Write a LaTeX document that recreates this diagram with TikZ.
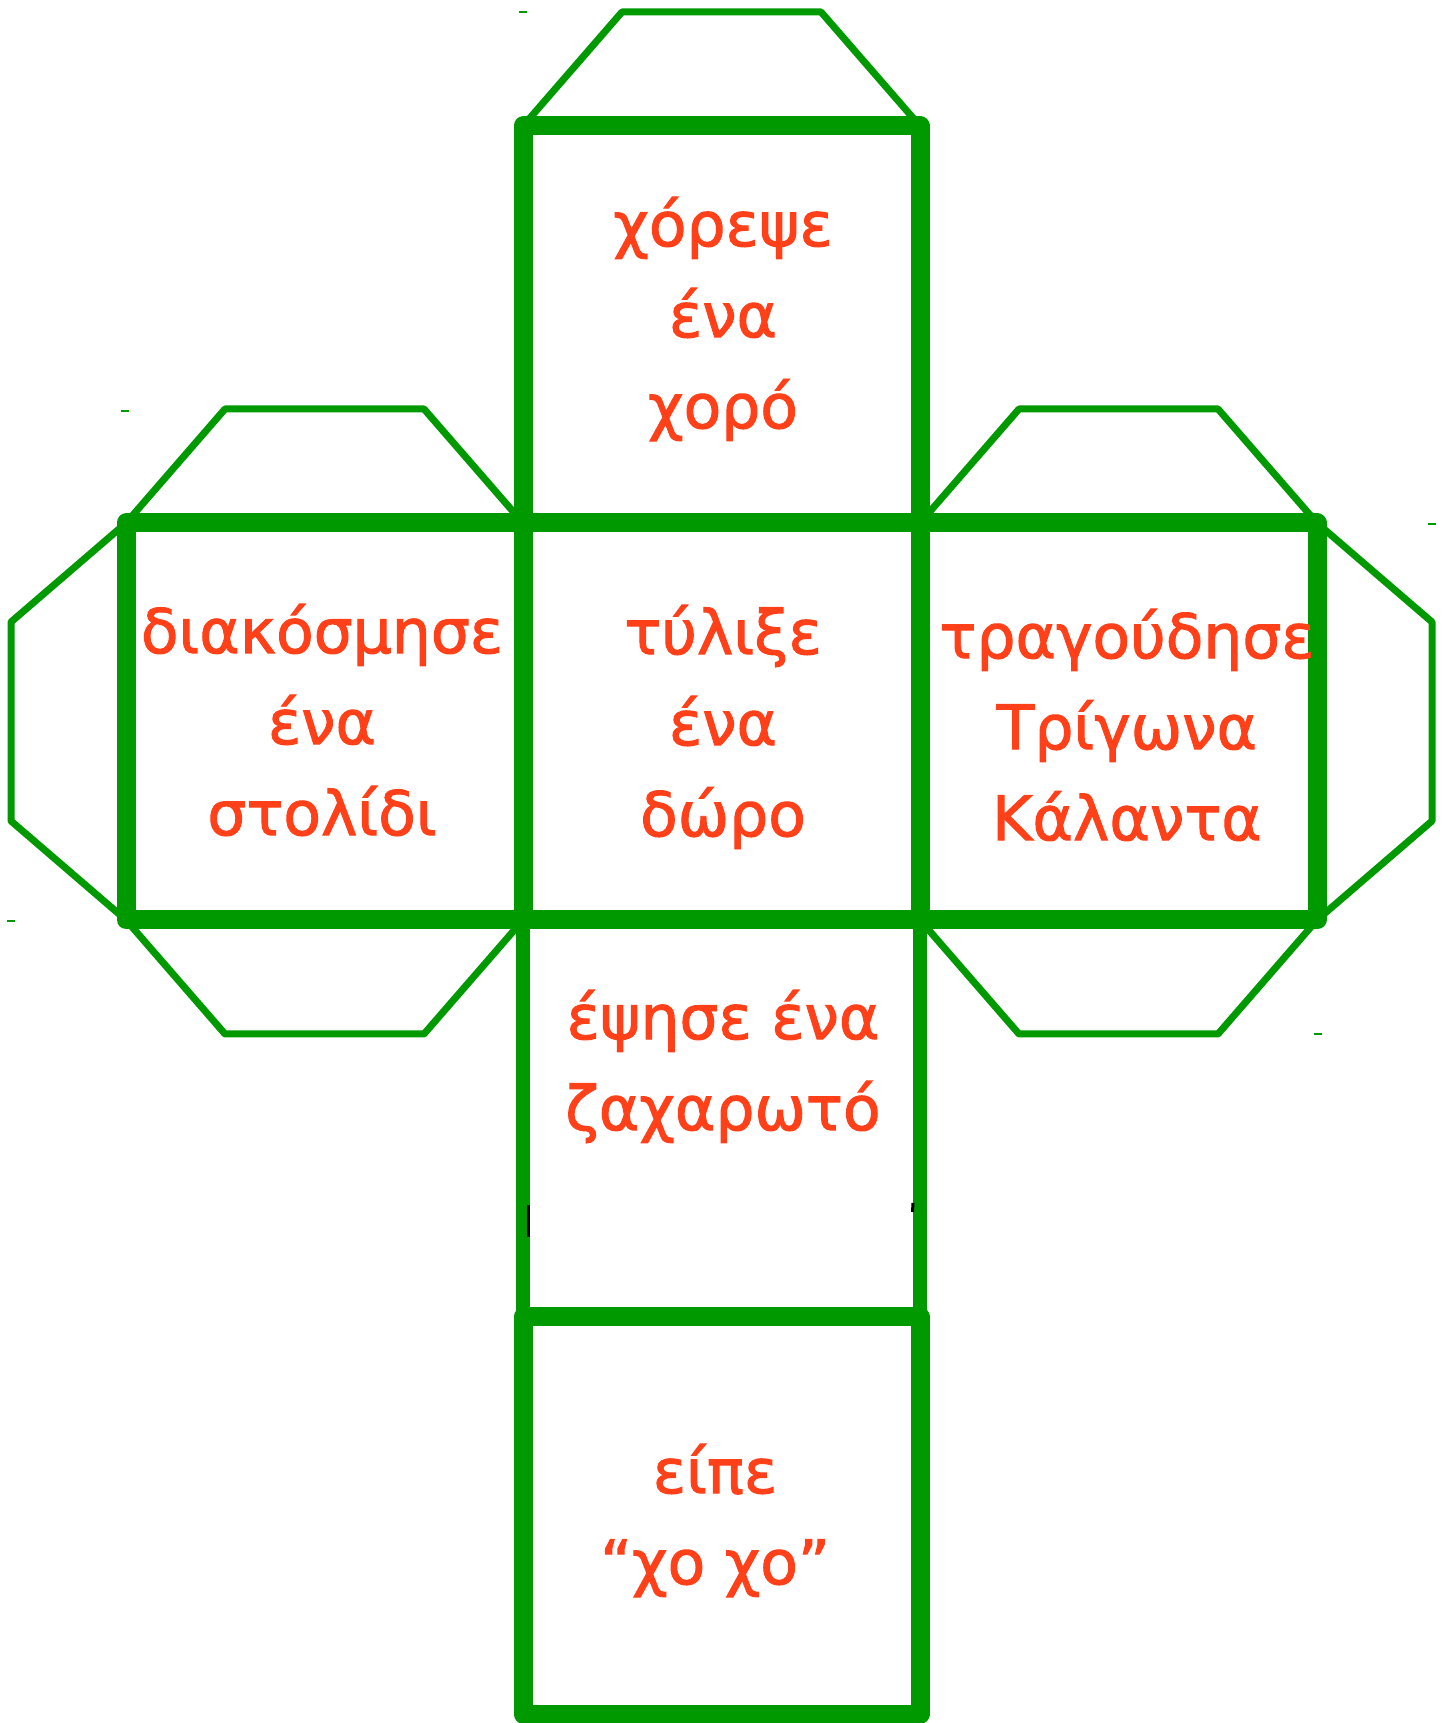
\documentclass[tikz,border=0pt]{standalone}
\usepackage{fontspec}
\setmainfont{DejaVu Sans}
\newfontfamily\taskfont{DejaVu Sans}[FakeBold=1.6]
\usetikzlibrary{backgrounds}
\definecolor{diegreen}{RGB}{0,153,0}
\definecolor{dieorange}{RGB}{255,64,25}
\tikzset{
  face/.style={draw=diegreen, line width=1.9mm, line join=round, minimum size=3.97cm, inner sep=0pt, outer sep=0pt},
  flap/.style={draw=diegreen, line width=0.7mm, line join=round},
  task/.style={text=dieorange, align=center, font=\taskfont\fontsize{17.5}{25.9}\selectfont},
  speck/.style={draw=diegreen, line width=0.2mm},
}
\begin{document}
\begin{tikzpicture}
\useasboundingbox (0,0) rectangle (14.48,17.23);
% faces of the die
\node[face, line width=1.45mm] (bake) at (7.215,6.045) {};
\node[face] (dance) at (7.215,13.985) {};
\node[face] (decorate) at (3.245,10.015) {};
\node[face] (wrap) at (7.215,10.015) {};
\node[face] (sing) at (11.185,10.015) {};
\node[face] (say) at (7.215,2.075) {};
% glue flaps
\begin{scope}[on background layer]
\draw[flap] (dance.north west) -- ++(0.99,1.14) -- ([shift={(-0.99,1.14)}]dance.north east) -- (dance.north east);
\draw[flap] (decorate.north west) -- ++(0.99,1.14) -- ([shift={(-0.99,1.14)}]decorate.north east) -- (decorate.north east);
\draw[flap] (decorate.south west) -- ++(0.99,-1.14) -- ([shift={(-0.99,-1.14)}]decorate.south east) -- (decorate.south east);
\draw[flap] (decorate.north west) -- ++(-1.15,-0.99) -- ([shift={(-1.15,0.99)}]decorate.south west) -- (decorate.south west);
\draw[flap] (sing.north west) -- ++(0.99,1.14) -- ([shift={(-0.99,1.14)}]sing.north east) -- (sing.north east);
\draw[flap] (sing.south west) -- ++(0.99,-1.14) -- ([shift={(-0.99,-1.14)}]sing.south east) -- (sing.south east);
\draw[flap] (sing.north east) -- ++(1.15,-0.99) -- ([shift={(1.15,0.99)}]sing.south east) -- (sing.south east);
\end{scope}
% tasks
\node[task] (t-dance) at (7.23,14.04) {χόρεψε\\ένα\\χορό};
\node[task] (t-wrap) at (7.23,9.96) {τύλιξε\\ένα\\δώρο};
\node[task] (t-decorate) at (3.22,10.03) {διακόσμησε\\ένα\\στολίδι};
\node[task] (t-sing) at (11.27,9.98) {τραγούδησε\\Τρίγωνα\\Κάλαντα};
\node[task] (t-bake) at (7.23,6.565) {έψησε ένα\\ζαχαρωτό};
\node[task] (t-say) at (7.15,2.025) {είπε\\“χο χο”};
% stray specks
\draw[speck] (5.19,17.11) -- (5.27,17.11);
\draw[speck] (1.21,13.12) -- (1.29,13.12);
\draw[speck] (14.28,11.99) -- (14.36,11.99);
\draw[speck] (0.07,8.02) -- (0.15,8.02);
\draw[speck] (13.14,6.89) -- (13.22,6.89);
\draw[line width=0.3mm] (5.285,5.18) -- (5.285,4.86);
\draw[line width=0.3mm] (9.13,5.20) -- (9.125,5.11);
\end{tikzpicture}
\end{document}
